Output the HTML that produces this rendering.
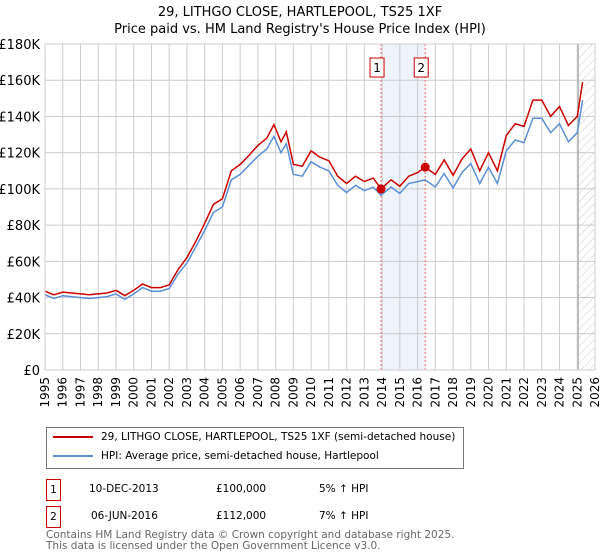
<!DOCTYPE html>
<html><head><meta charset="utf-8">
<style>
body{margin:0;background:#fff;font-family:"DejaVu Sans","Liberation Sans",sans-serif;}
#wrap{position:relative;width:600px;height:560px;overflow:hidden;}
svg text{font-family:"DejaVu Sans","Liberation Sans",sans-serif;}
</style></head>
<body>
<div id="wrap">
<svg id="chart" width="600" height="560">
<defs>
<pattern id="hatch" width="6" height="6" patternUnits="userSpaceOnUse" patternTransform="rotate(45)">
<line x1="0" y1="0" x2="0" y2="6" stroke="#ccc" stroke-width="1"/>
</pattern>
</defs>
<text x="300" y="16" text-anchor="middle" font-size="13" fill="#000">29, LITHGO CLOSE, HARTLEPOOL, TS25 1XF</text>
<text x="300" y="33" text-anchor="middle" font-size="13" fill="#000">Price paid vs. HM Land Registry's House Price Index (HPI)</text>
<g id="grid"></g>
<g id="marks"></g>
</svg>
<div style="position:absolute;left:46px;top:427px;width:416px;height:40px;border:1px solid #777;">
 <div style="position:absolute;left:6px;top:8px;width:40px;height:2px;background:#cc0000"></div>
 <div style="position:absolute;left:54px;top:1px;font-size:10.5px;line-height:16px;white-space:nowrap">29, LITHGO CLOSE, HARTLEPOOL, TS25 1XF (semi-detached house)</div>
 <div style="position:absolute;left:6px;top:27px;width:40px;height:2px;background:#5b8fd6"></div>
 <div style="position:absolute;left:54px;top:20px;font-size:10.5px;line-height:16px;white-space:nowrap">HPI: Average price, semi-detached house, Hartlepool</div>
</div>
<div style="position:absolute;left:46px;top:479px;font-size:10.5px;width:400px;height:22px;">
 <div style="position:absolute;left:0;top:0;width:13px;height:20px;border:1px solid #cc0000;text-align:center;line-height:20px">1</div>
 <div style="position:absolute;left:43px;top:4px">10-DEC-2013</div>
 <div style="position:absolute;left:170px;top:4px">£100,000</div>
 <div style="position:absolute;left:273px;top:4px">5% ↑ HPI</div>
</div>
<div style="position:absolute;left:46px;top:506px;font-size:10.5px;width:400px;height:22px;">
 <div style="position:absolute;left:0;top:0;width:13px;height:20px;border:1px solid #cc0000;text-align:center;line-height:20px">2</div>
 <div style="position:absolute;left:45px;top:4px">06-JUN-2016</div>
 <div style="position:absolute;left:170px;top:4px">£112,000</div>
 <div style="position:absolute;left:273px;top:4px">7% ↑ HPI</div>
</div>
<div style="position:absolute;left:46px;top:530px;font-size:10.5px;line-height:11px;color:#666">Contains HM Land Registry data © Crown copyright and database right 2025.<br>This data is licensed under the Open Government Licence v3.0.</div>
</div>
<script>
const yearTicks=[1995,1996,1997,1998,1999,2000,2001,2002,2003,2004,2005,2006,2007,2008,2009,2010,2011,2012,2013,2014,2015,2016,2017,2018,2019,2020,2021,2022,2023,2024,2025,2026];
const valueTicks=[0,20000,40000,60000,80000,100000,120000,140000,160000,180000];
const valueTickLabels=["£0","£20K","£40K","£60K","£80K","£100K","£120K","£140K","£160K","£180K"];
const times=[1995,1995.5,1996,1996.5,1997,1997.5,1998,1998.5,1999,1999.5,2000,2000.5,2001,2001.5,2002,2002.5,2003,2003.5,2004,2004.5,2005,2005.5,2006,2006.5,2007,2007.5,2007.9,2008.3,2008.6,2009,2009.5,2010,2010.5,2011,2011.5,2012,2012.5,2013,2013.5,2013.94,2014.5,2015,2015.5,2016,2016.43,2017,2017.5,2018,2018.5,2019,2019.5,2020,2020.5,2021,2021.5,2022,2022.5,2023,2023.5,2024,2024.5,2025,2025.3];
const hpiValues=[41500,39500,41000,40500,40000,39500,40000,40500,42000,39000,42000,45500,43500,43500,45000,53000,59000,68000,77000,87000,90000,105000,108000,113000,118000,122000,129000,120000,125000,108000,107000,115000,112000,110000,102000,98000,102000,99000,101000,96500,101000,97500,103000,104000,105000,101000,108500,100500,109000,114000,103000,112000,103000,121000,127000,125500,139000,139000,131000,136000,126000,131000,149000];
const priceValues=[43500,41500,43000,42500,42000,41500,42000,42500,44000,41000,44000,47500,45500,45500,47000,55500,62000,71000,81000,91500,94500,110000,113500,118500,124000,128000,135500,126000,131500,113500,112500,121000,117500,115500,107000,103000,107000,104000,106000,100000,105000,101500,107000,109000,112000,108000,116000,107500,116500,122000,110000,120000,110000,129500,136000,134500,149000,149000,140000,145500,135000,140000,159000];
const saleTimes=[2013.94,2016.43];
const saleValues=[100000,112000];
const saleLabels=["1","2"];

const L=45,R=595,T=44,B=370,X0=1995,X1=2026,VMAX=180000;
const xs=t=>L+(t-X0)/(X1-X0)*(R-L);
const ys=v=>B-v/VMAX*(B-T);
const NS="http://www.w3.org/2000/svg";
function mk(tag,attrs,parent){const e=document.createElementNS(NS,tag);for(const k in attrs)e.setAttribute(k,attrs[k]);parent.appendChild(e);return e;}
const grid=document.getElementById('grid'),marks=document.getElementById('marks');

const band=mk('rect',{x:xs(saleTimes[0]),y:T,width:xs(saleTimes[1])-xs(saleTimes[0]),height:B-T,fill:'#eef3fc'},grid);


const fut=mk('rect',{x:xs(2025.05),y:T,width:R-xs(2025.05),height:B-T,fill:'url(#hatch)'},grid);



yearTicks.forEach(y=>{
  const g=mk('line',{x1:xs(y),x2:xs(y),y1:T,y2:B,stroke:'#cccccc','stroke-width':1},grid);
  
  
  const t=mk('text',{x:0,y:0,'font-size':12,'text-anchor':'end',transform:`translate(${xs(y)+4},377) rotate(-90)`},grid);
  t.textContent=y;
  
  
});
valueTicks.forEach((v,i)=>{
  const g=mk('line',{x1:L,x2:R,y1:ys(v),y2:ys(v),stroke:'#cccccc','stroke-width':1},grid);
  
  
  const t=mk('text',{x:40,y:ys(v)+5,'font-size':13,'text-anchor':'end'},grid);
  t.textContent=valueTickLabels[i];
  
  
});
const nowLine=mk('line',{x1:xs(2025.05),x2:xs(2025.05),y1:T,y2:B,stroke:'#999','stroke-width':1},grid);



saleTimes.forEach((t,i)=>{
  const d=mk('line',{x1:xs(t),x2:xs(t),y1:T,y2:B,stroke:'#ff6666','stroke-width':1,'stroke-dasharray':'2,2'},marks);
  
  
});

function pts(vals){return times.map((t,i)=>xs(t).toFixed(1)+','+ys(vals[i]).toFixed(1)).join(' ');}
const hpi=mk('polyline',{points:pts(hpiValues),fill:'none',stroke:'#5b8fd6','stroke-width':1.5},marks);


const pr=mk('polyline',{points:pts(priceValues),fill:'none',stroke:'#cc0000','stroke-width':1.5},marks);



saleTimes.forEach((t,i)=>{
  const c=mk('circle',{cx:xs(t),cy:ys(saleValues[i]),r:4.5,fill:'#cc0000'},marks);
  
  
  const cx=xs(t)-4;
  const bx=mk('rect',{x:cx-7,y:58,width:14,height:19,fill:'#fff',stroke:'#cc0000','stroke-width':1},marks);
  
  
  const tx=mk('text',{x:cx,y:72,'font-size':12,'text-anchor':'middle'},marks);
  tx.textContent=saleLabels[i];
  
  
});
const frame=mk('rect',{x:L,y:T,width:R-L,height:B-T,fill:'none',stroke:'#cccccc','stroke-width':1},marks);


</script>
</body></html>
